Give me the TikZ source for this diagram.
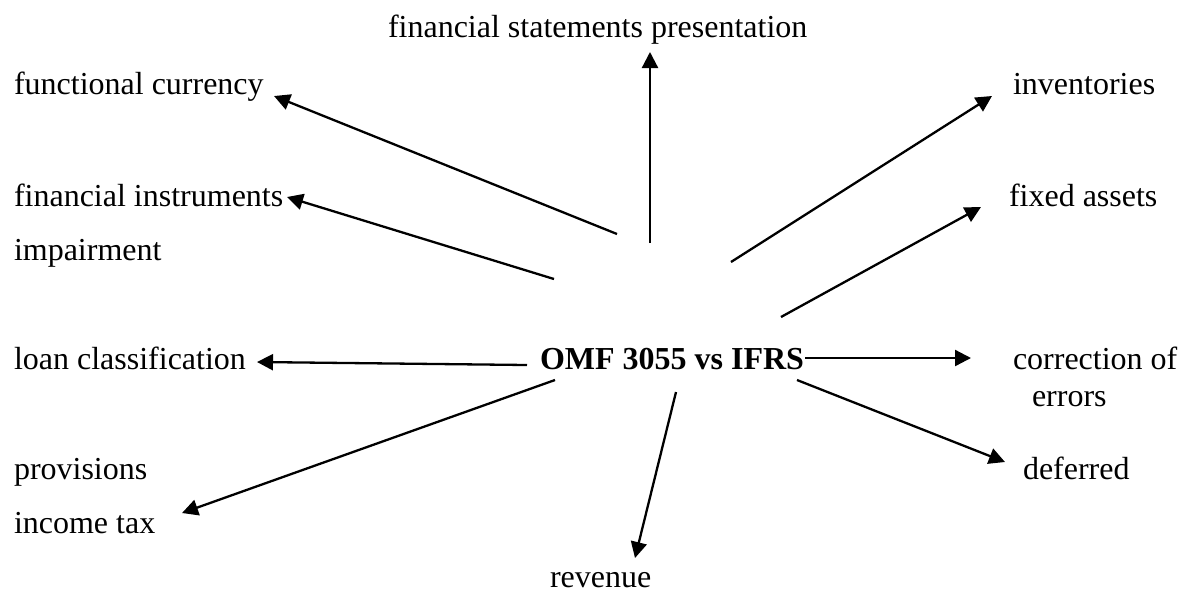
\documentclass[tikz,border=0pt]{standalone}
\usepackage{fontspec}
\setmainfont{Liberation Serif}
\usetikzlibrary{arrows.meta}
\begin{document}
\begin{tikzpicture}[x=0.5pt,y=-0.5pt,
  lbl/.style={anchor=base west,inner sep=0pt,outer sep=0pt,font=\fontsize{16}{19}\selectfont},
  hub/.style={anchor=base west,inner sep=0pt,outer sep=0pt,font=\fontsize{16}{19}\selectfont\bfseries},
  conn/.style={line width=1.15pt,-{Triangle[length=8pt,width=8pt]}}]
\useasboundingbox (0,0) rectangle (1179,591);
% labels
\node[lbl] (fsp) at (388,37) {financial statements presentation};
\node[lbl] (fc) at (14,94) {functional currency};
\node[lbl] (inv) at (1013,94) {inventories};
\node[lbl] (fi) at (14,206) {financial instruments};
\node[lbl] (fa) at (1009,206) {fixed assets};
\node[lbl] (imp) at (14,260) {impairment};
\node[lbl] (lc) at (14,369) {loan classification};
\node[hub] (omf) at (540,369) {OMF 3055 vs IFRS};
\node[lbl] (co) at (1013,369) {correction of};
\node[lbl] (err) at (1032,406) {errors};
\node[lbl] (prov) at (14,479) {provisions};
\node[lbl] (def) at (1023,479) {deferred};
\node[lbl] (it) at (14,533) {income tax};
\node[lbl] (rev) at (550,587) {revenue};
% connector end points
\coordinate (sFsp) at (650,243); \coordinate (tFsp) at (650,52);
\coordinate (sFc) at (617,234);  \coordinate (tFc) at (274,96);
\coordinate (sFi) at (554,279);  \coordinate (tFi) at (287,197);
\coordinate (sInv) at (731,262); \coordinate (tInv) at (992,96);
\coordinate (sFa) at (781,317);  \coordinate (tFa) at (981,207);
\coordinate (sLc) at (527,365);  \coordinate (tLc) at (257,362);
\coordinate (sCo) at (805,358);  \coordinate (tCo) at (971,358);
\coordinate (sIt) at (555,380);  \coordinate (tIt) at (182,513);
\coordinate (sRev) at (676,392); \coordinate (tRev) at (635,558);
\coordinate (sDef) at (797,380); \coordinate (tDef) at (1005,462);
% connectors
\draw[conn] (sFsp) -- (tFsp);
\draw[conn] (sFc) -- (tFc);
\draw[conn] (sFi) -- (tFi);
\draw[conn] (sInv) -- (tInv);
\draw[conn] (sFa) -- (tFa);
\draw[conn] (sLc) -- (tLc);
\draw[conn] (sCo) -- (tCo);
\draw[conn] (sIt) -- (tIt);
\draw[conn] (sRev) -- (tRev);
\draw[conn] (sDef) -- (tDef);
\end{tikzpicture}
\end{document}
